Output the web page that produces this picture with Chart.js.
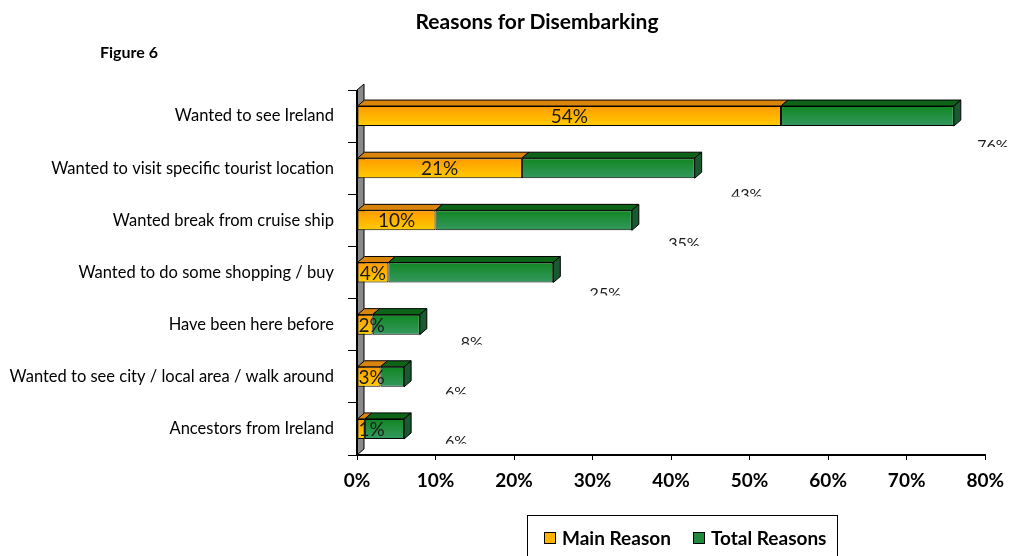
<!DOCTYPE html>
<html lang="en">
<head>
<meta charset="UTF-8">
<title>Reasons for Disembarking</title>
<script src="https://cdn.jsdelivr.net/npm/chart.js"></script>
<style>
    body { margin: 0; background: #fff; font-family: Lato, sans-serif; }
    .wrap { position: relative; width: 1013px; height: 556px; overflow: hidden; }
    .title { position: absolute; left: 337px; width: 400px; top: 8px; text-align: center; font-size: 21px; font-weight: bold; color: #000; }
    .figure { position: absolute; left: 100px; top: 42px; font-size: 16px; font-weight: bold; color: #000; }
    .legend {
        position: absolute; left: 527px; top: 515px; width: 311px; height: 50px;
        border: 1px solid #000; box-sizing: border-box; white-space: nowrap;
        display: flex; align-items: flex-start; padding: 10px 0 0 16px;
        font-size: 19px; font-weight: bold; color: #000;
    }
    .legend span { display: flex; align-items: center; margin-right: 22px; }
    .legend i { display: inline-block; width: 10px; height: 10px; border: 1px solid #000; margin-right: 6px; }
</style>
</head>
<body>
<div class="wrap">
    <canvas id="chart" width="1013" height="556"></canvas>
    <div class="title">Reasons for Disembarking</div>
    <div class="figure">Figure 6</div>
    <div class="legend">
        <span><i style="background:#ffb300"></i>Main Reason</span>
        <span><i style="background:#1f8a3c"></i>Total Reasons</span>
    </div>
</div>
<script>
    const categories = [
        'Wanted to see Ireland',
        'Wanted to visit specific tourist location',
        'Wanted break from cruise ship',
        'Wanted to do some shopping / buy',
        'Have been here before',
        'Wanted to see city / local area / walk around',
        'Ancestors from Ireland'
    ];
    const mainReason = [54, 21, 10, 4, 2, 3, 1];
    const totalReasons = [76, 43, 35, 25, 8, 6, 6];
    const xTicks = [0, 10, 20, 30, 40, 50, 60, 70, 80];

    const DX = 7, DY = 6;

    // vertical gradient across each bar's front face
    function frontFill(c0, c1) {
        return (c) => {
            const chart = c.chart;
            const y = chart.scales.y;
            if (!y || c.dataIndex == null) return c0;
            const cy = y.getPixelForValue(c.dataIndex);
            if (!isFinite(cy)) return c0;
            const g = chart.ctx.createLinearGradient(0, cy - 10, 0, cy + 10);
            g.addColorStop(0, c0);
            g.addColorStop(1, c1);
            return g;
        };
    }

    function poly(ctx, pts, fill) {
        ctx.beginPath();
        ctx.moveTo(pts[0][0], pts[0][1]);
        for (let k = 1; k < pts.length; k++) ctx.lineTo(pts[k][0], pts[k][1]);
        ctx.closePath();
        ctx.fillStyle = fill;
        ctx.fill();
        ctx.stroke();
    }

    const bars3d = {
        id: 'bars3d',
        beforeDatasetsDraw(chart) {
            const { ctx, chartArea: a } = chart;
            ctx.save();
            ctx.strokeStyle = '#000';
            ctx.lineWidth = 1;
            poly(ctx, [[a.left, a.bottom], [a.left + DX, a.bottom - DY], [a.left + DX, a.top - DY], [a.left, a.top]], '#8a8a8a');
            ctx.lineWidth = 2;
            ctx.beginPath();
            ctx.moveTo(a.left, a.top);
            ctx.lineTo(a.left, a.bottom);
            ctx.stroke();
            ctx.restore();
        },
        afterDatasetsDraw(chart) {
            const ctx = chart.ctx;
            const tops = ['#d9840b', '#0d6419'];
            ctx.save();
            ctx.strokeStyle = '#000';
            ctx.lineWidth = 1;
            chart.data.datasets.forEach((ds, di) => {
                chart.getDatasetMeta(di).data.forEach((bar) => {
                    const t = bar.y - bar.height / 2, b = bar.y + bar.height / 2;
                    poly(ctx, [[bar.base, t], [bar.base + DX, t - DY], [bar.x + DX, t - DY], [bar.x, t]], tops[di]);
                    if (di === 1) {
                        poly(ctx, [[bar.x, t], [bar.x + DX, t - DY], [bar.x + DX, b - DY], [bar.x, b]], '#1b5a30');
                    }
                });
            });
            ctx.restore();
        },
        afterDraw(chart) {
            const ctx = chart.ctx;
            const xs = chart.scales.x;
            ctx.save();
            ctx.fillStyle = '#1a1a1a';
            ctx.font = '19px Lato';
            ctx.textAlign = 'center';
            ctx.textBaseline = 'middle';
            chart.getDatasetMeta(0).data.forEach((bar, i) => {
                const cx = Math.max((bar.base + bar.x) / 2, bar.base + 14);
                ctx.fillText(mainReason[i] + '%', cx, bar.y + 1);
            });
            // total labels sit below each bar and are half cut off
            ctx.font = '16px Lato';
            ctx.textBaseline = 'alphabetic';
            chart.getDatasetMeta(1).data.forEach((bar, i) => {
                const cx = Math.min(xs.getPixelForValue(totalReasons[i]) + 52, 993);
                const capTop = bar.y + 23 - 2.7 * i;
                ctx.save();
                ctx.beginPath();
                ctx.rect(0, capTop - 10, chart.width, 18);
                ctx.clip();
                ctx.fillText(totalReasons[i] + '%', cx, capTop + 11.5);
                ctx.restore();
            });
            ctx.restore();
        }
    };

    new Chart(document.getElementById('chart'), {
        type: 'bar',
        data: {
            labels: categories,
            datasets: [
                {
                    label: 'Main Reason',
                    data: mainReason,
                    backgroundColor: frontFill('#ff9a00', '#ffcc00'),
                    borderColor: '#000',
                    borderWidth: 1,
                    borderSkipped: false,
                    barPercentage: 0.48,
                    categoryPercentage: 0.8
                },
                {
                    label: 'Total Reasons',
                    data: totalReasons.map((t, i) => t - mainReason[i]),
                    backgroundColor: frontFill('#118622', '#34995f'),
                    borderColor: '#000',
                    borderWidth: 1,
                    borderSkipped: false,
                    barPercentage: 0.48,
                    categoryPercentage: 0.8
                }
            ]
        },
        options: {
            indexAxis: 'y',
            responsive: false,
            animation: false,
            devicePixelRatio: 1,
            layout: { padding: { left: 0, right: 23, top: 90, bottom: 0 } },
            plugins: {
                legend: { display: false },
                tooltip: { enabled: false }
            },
            scales: {
                x: {
                    stacked: true,
                    min: xTicks[0],
                    max: xTicks[xTicks.length - 1],
                    afterBuildTicks: (s) => { s.ticks = xTicks.map(v => ({ value: v })); },
                    ticks: {
                        callback: (v) => v + '%',
                        color: '#000',
                        font: { family: 'Lato', size: 19, weight: 'bold' },
                        padding: 9,
                        maxRotation: 0
                    },
                    grid: { drawOnChartArea: false, tickLength: 5, color: '#000' },
                    border: { display: true, color: '#000', width: 2 },
                    afterFit: (s) => { s.height = 101; }
                },
                y: {
                    stacked: true,
                    ticks: { color: '#000', font: { family: 'Lato', size: 16.5 }, padding: 14 },
                    grid: { offset: true, drawOnChartArea: false, tickLength: 9, color: '#000' },
                    border: { display: false },
                    afterFit: (s) => { s.width = 357; }
                }
            }
        },
        plugins: [bars3d]
    });
</script>
</body>
</html>
